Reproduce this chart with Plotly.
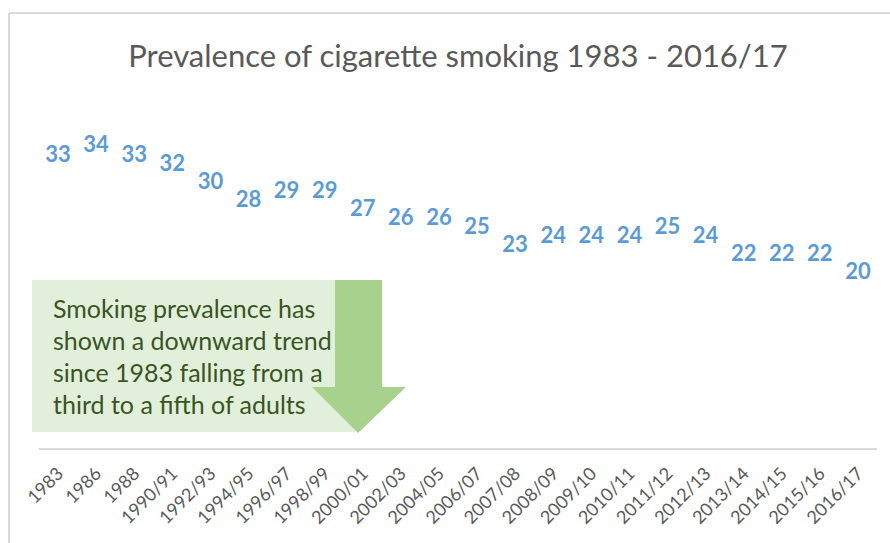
import plotly.graph_objects as go

years = ["1983", "1986", "1988", "1990/91", "1992/93", "1994/95", "1996/97", "1998/99",
         "2000/01", "2002/03", "2004/05", "2006/07", "2007/08", "2008/09", "2009/10",
         "2010/11", "2011/12", "2012/13", "2013/14", "2014/15", "2015/16", "2016/17"]
prevalence = [33, 34, 33, 32, 30, 28, 29, 29, 27, 26, 26, 25, 23, 24, 24, 24, 25, 24, 22, 22, 22, 20]

title_text = "Prevalence of cigarette smoking 1983 - 2016/17"
note_lines = ["Smoking prevalence has", "shown a downward trend",
              "since 1983 falling from a", "third to a fifth of adults"]

W, H = 890, 543
L, R, T, B = 39, 13, 88, 95

def px(x):
    return (x - L) / (W - L - R)

def py(y):
    return (H - B - y) / (H - T - B)

FONT = "Lato"

fig = go.Figure()
fig.add_trace(go.Scatter(
    x=years, y=prevalence, mode="text",
    text=[str(v) for v in prevalence],
    textposition="middle center",
    textfont=dict(family=FONT, size=22, color="#5B9BD5", weight="bold"),
    hoverinfo="skip", showlegend=False,
))

shapes = []
# chart border (top & left)
shapes.append(dict(type="line", xref="paper", yref="paper", x0=px(9), x1=px(900), y0=py(13), y1=py(13),
                   line=dict(color="#D9D9D9", width=2)))
shapes.append(dict(type="line", xref="paper", yref="paper", x0=px(9), x1=px(9), y0=py(13), y1=py(560),
                   line=dict(color="#D9D9D9", width=2)))
# note box
shapes.append(dict(type="rect", xref="paper", yref="paper", x0=px(32), x1=px(355), y0=py(280), y1=py(432),
                   fillcolor="#E2EFDA", line=dict(width=0), layer="below"))
# arrow
pts = [(335, 280), (382, 280), (382, 387), (406, 387), (358, 433), (312, 387), (335, 387)]
path = "M " + " L ".join(f"{px(x)},{py(y)}" for x, y in pts) + " Z"
shapes.append(dict(type="path", xref="paper", yref="paper", path=path,
                   fillcolor="#A9D18E", line=dict(width=0), layer="below"))

annotations = []
for i, line in enumerate(note_lines):
    annotations.append(dict(xref="paper", yref="paper", x=px(51), y=py(308 + 32 * i),
                            xanchor="left", yanchor="middle", showarrow=False, text=line,
                            font=dict(family=FONT, size=25, color="#375623")))

fig.update_layout(
    width=W, height=H,
    margin=dict(l=L, r=R, t=T, b=B, autoexpand=False),
    paper_bgcolor="white", plot_bgcolor="white",
    title=dict(text=title_text, x=0.5, xref="paper", xanchor="center",
               y=1 - 56 / H, yanchor="middle",
               font=dict(family=FONT, size=31, color="#595959")),
    xaxis=dict(type="category", range=[-0.5, len(years) - 0.5], showgrid=False, showline=True,
               linecolor="#D9D9D9", linewidth=2, ticklabelstandoff=6,
               tickangle=-45, ticks="", tickfont=dict(family=FONT, size=18, color="#595959"),
               zeroline=False, automargin=False),
    yaxis=dict(range=[0.8, 40.5], visible=False, showgrid=False, zeroline=False, automargin=False),
    shapes=shapes, annotations=annotations,
)

fig.write_html("out.html", config={"displayModeBar": False},
               post_script="document.body.style.margin='0';document.body.style.overflow='hidden';")
